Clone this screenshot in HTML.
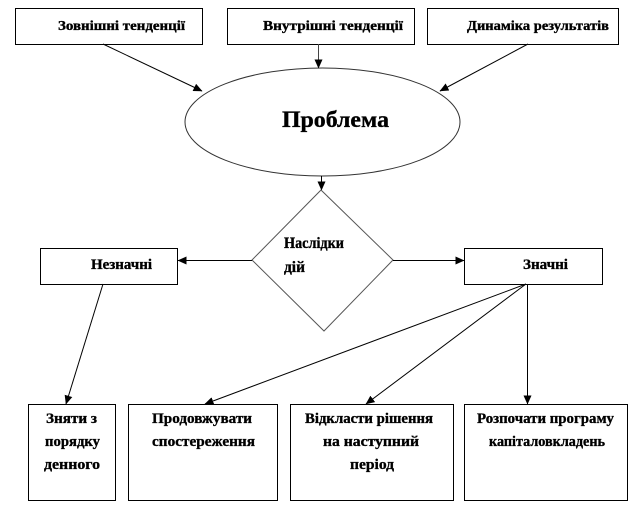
<!DOCTYPE html>
<html>
<head>
<meta charset="utf-8">
<style>
  html, body { margin: 0; padding: 0; background: #fff; }
  svg { display: block; }
  text { font-family: "Liberation Serif", "DejaVu Serif", serif; font-weight: bold; fill: #000; stroke: #000; stroke-width: 0.35; }
</style>
</head>
<body>
<svg width="636" height="528" viewBox="0 0 636 528" xmlns="http://www.w3.org/2000/svg">
  <defs>
    <marker id="ah" markerWidth="9" markerHeight="8" refX="8.5" refY="4" orient="auto" markerUnits="userSpaceOnUse">
      <path d="M0,0 L9,4 L0,8 Z" fill="#000"/>
    </marker>
  </defs>
  <rect width="636" height="528" fill="#fff"/>

  <!-- top boxes -->
  <rect x="15.5" y="8.5" width="187" height="36" fill="#fff" stroke="#000" stroke-width="1"/>
  <rect x="227.5" y="8.5" width="187" height="36" fill="#fff" stroke="#000" stroke-width="1"/>
  <rect x="427.5" y="8.5" width="191" height="36" fill="#fff" stroke="#000" stroke-width="1"/>
  <text x="58" y="30" font-size="13.5" textLength="127" lengthAdjust="spacingAndGlyphs">Зовнішні тенденції</text>
  <text x="263" y="30" font-size="13.5" textLength="140" lengthAdjust="spacingAndGlyphs">Внутрішні  тенденції</text>
  <text x="467" y="30" font-size="13.5" textLength="142" lengthAdjust="spacingAndGlyphs">Динаміка результатів</text>

  <!-- ellipse -->
  <ellipse cx="322.5" cy="122" rx="137.5" ry="54" fill="#fff" stroke="#333" stroke-width="1"/>
  <text x="282" y="127" font-size="23.5" textLength="107" lengthAdjust="spacingAndGlyphs">Проблема</text>

  <!-- arrows to ellipse -->
  <line x1="103" y1="44" x2="202" y2="91" stroke="#000" stroke-width="1" marker-end="url(#ah)"/>
  <line x1="318.5" y1="44" x2="318.5" y2="68" stroke="#444" stroke-width="1" marker-end="url(#ah)"/>
  <line x1="528" y1="44" x2="440" y2="91" stroke="#000" stroke-width="1" marker-end="url(#ah)"/>

  <!-- ellipse to diamond -->
  <line x1="321.5" y1="176" x2="321.5" y2="190" stroke="#000" stroke-width="1" marker-end="url(#ah)"/>

  <!-- diamond -->
  <polygon points="321,190 393,260 324,331 252,260" fill="#fff" stroke="#555" stroke-width="1"/>
  <text x="284" y="248" font-size="15.5" textLength="60" lengthAdjust="spacingAndGlyphs">Наслідки</text>
  <text x="284" y="272" font-size="15.5" textLength="21" lengthAdjust="spacingAndGlyphs">дій</text>

  <!-- middle boxes -->
  <rect x="40.5" y="248.5" width="137" height="36" fill="#fff" stroke="#000" stroke-width="1"/>
  <rect x="464.5" y="248.5" width="138" height="36" fill="#fff" stroke="#000" stroke-width="1"/>
  <text x="91" y="269" font-size="15" textLength="61" lengthAdjust="spacingAndGlyphs">Незначні</text>
  <text x="523" y="269" font-size="15" textLength="45" lengthAdjust="spacingAndGlyphs">Значні</text>

  <line x1="252" y1="260.5" x2="178" y2="260.5" stroke="#000" stroke-width="1" marker-end="url(#ah)"/>
  <line x1="393" y1="260.5" x2="464" y2="260.5" stroke="#000" stroke-width="1" marker-end="url(#ah)"/>

  <!-- lines down -->
  <line x1="103" y1="284" x2="66" y2="404" stroke="#000" stroke-width="1" marker-end="url(#ah)"/>
  <line x1="526" y1="284" x2="205" y2="404" stroke="#000" stroke-width="1" marker-end="url(#ah)"/>
  <line x1="526" y1="284" x2="366" y2="404" stroke="#000" stroke-width="1" marker-end="url(#ah)"/>
  <line x1="527.5" y1="284" x2="527.5" y2="404" stroke="#000" stroke-width="1" marker-end="url(#ah)"/>

  <!-- bottom boxes -->
  <rect x="28.5" y="404.5" width="87" height="96" fill="none" stroke="#000" stroke-width="1"/>
  <rect x="128.5" y="404.5" width="149" height="96" fill="none" stroke="#000" stroke-width="1"/>
  <rect x="290.5" y="404.5" width="163" height="96" fill="none" stroke="#000" stroke-width="1"/>
  <rect x="464.5" y="404.5" width="163" height="96" fill="none" stroke="#000" stroke-width="1"/>

  <text x="46" y="423" font-size="15" textLength="51" lengthAdjust="spacingAndGlyphs">Зняти з</text>
  <text x="45" y="446" font-size="15" textLength="55" lengthAdjust="spacingAndGlyphs">порядку</text>
  <text x="44" y="469" font-size="15" textLength="56" lengthAdjust="spacingAndGlyphs">денного</text>

  <text x="152" y="423" font-size="15" textLength="100" lengthAdjust="spacingAndGlyphs">Продовжувати</text>
  <text x="152" y="446" font-size="15" textLength="103" lengthAdjust="spacingAndGlyphs">спостереження</text>

  <text x="305" y="423" font-size="15" textLength="128" lengthAdjust="spacingAndGlyphs">Відкласти  рішення</text>
  <text x="323" y="446" font-size="15" textLength="96" lengthAdjust="spacingAndGlyphs">на наступний</text>
  <text x="350" y="469" font-size="15" textLength="44" lengthAdjust="spacingAndGlyphs">період</text>

  <text x="477" y="423" font-size="15" textLength="137" lengthAdjust="spacingAndGlyphs">Розпочати програму</text>
  <text x="489" y="446" font-size="15" textLength="116" lengthAdjust="spacingAndGlyphs">капіталовкладень</text>
</svg>
</body>
</html>
